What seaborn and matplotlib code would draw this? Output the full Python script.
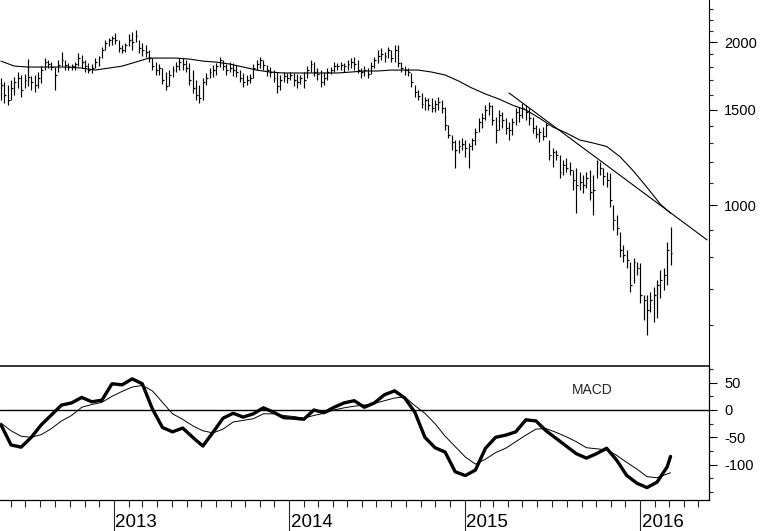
import matplotlib
matplotlib.use('Agg')
import matplotlib.pyplot as plt
import matplotlib.dates as mdates
import matplotlib.ticker as mticker
import matplotlib.transforms as mtrans
import numpy as np
import pandas as pd
import seaborn as sns

# ---------------- weekly bars ----------------
weeks = pd.date_range('2012-05-11', periods=200, freq='7D')

high = [1717, 1688, 1666, 1702, 1724, 1761, 1739, 1746, 1861, 1732,
        1739, 1761, 1806, 1869, 1853, 1837, 1799, 1853, 1918, 1853,
        1830, 1822, 1837, 1910, 1893, 1853, 1830, 1822, 1869, 1885,
        1959, 2018, 2035, 2052, 2079, 2018, 1976, 1993, 2070, 2088,
        2106, 2018, 1993, 1976, 1934, 1869, 1837, 1822, 1791, 1761,
        1776, 1806, 1837, 1869, 1869, 1853, 1830, 1776, 1702, 1666,
        1717, 1754, 1791, 1814, 1830, 1877, 1853, 1822, 1837, 1830,
        1814, 1776, 1754, 1739, 1746, 1822, 1853, 1877, 1853, 1814,
        1799, 1776, 1761, 1739, 1761, 1754, 1761, 1754, 1746, 1739,
        1761, 1806, 1853, 1837, 1791, 1776, 1761, 1791, 1799, 1837,
        1830, 1837, 1830, 1853, 1869, 1877, 1853, 1791, 1806, 1791,
        1837, 1877, 1934, 1951, 1918, 1959, 1934, 1976, 1976, 1837,
        1806, 1791, 1754, 1666, 1631, 1610, 1584, 1577, 1577, 1563,
        1584, 1563, 1517, 1405, 1347, 1319, 1319, 1330, 1319, 1302,
        1330, 1388, 1448, 1479, 1530, 1550, 1530, 1455, 1498, 1486,
        1448, 1424, 1448, 1511, 1517, 1543, 1530, 1511, 1455, 1405,
        1388, 1394, 1417, 1319, 1275, 1264, 1237, 1211, 1221, 1201,
        1161, 1171, 1151, 1136, 1151, 1161, 1136, 1211, 1201, 1171,
        1151, 1146, 1000, 958, 892, 844, 826, 785, 798, 785,
        782, 682, 682, 690, 705, 727, 758, 765, 855, 910]

low = [1563, 1543, 1530, 1563, 1597, 1645, 1584, 1645, 1659, 1631,
       1617, 1645, 1680, 1776, 1791, 1776, 1631, 1761, 1806, 1776,
       1776, 1776, 1776, 1806, 1791, 1761, 1754, 1754, 1791, 1806,
       1869, 1934, 1968, 1976, 1985, 1918, 1910, 1918, 1968, 1934,
       2001, 1910, 1885, 1877, 1837, 1776, 1739, 1739, 1673, 1631,
       1659, 1724, 1761, 1776, 1776, 1761, 1666, 1610, 1563, 1543,
       1563, 1666, 1717, 1724, 1739, 1799, 1776, 1739, 1761, 1732,
       1724, 1688, 1652, 1666, 1680, 1717, 1776, 1791, 1776, 1732,
       1724, 1688, 1610, 1631, 1688, 1680, 1702, 1659, 1645, 1673,
       1645, 1717, 1761, 1732, 1702, 1652, 1666, 1702, 1746, 1761,
       1776, 1776, 1761, 1776, 1791, 1776, 1754, 1717, 1732, 1717,
       1746, 1791, 1830, 1853, 1837, 1869, 1837, 1837, 1799, 1761,
       1739, 1732, 1652, 1584, 1563, 1511, 1498, 1498, 1486, 1486,
       1498, 1479, 1376, 1330, 1264, 1171, 1248, 1264, 1226, 1171,
       1264, 1291, 1364, 1388, 1436, 1467, 1405, 1302, 1376, 1388,
       1353, 1319, 1347, 1405, 1424, 1448, 1436, 1405, 1359, 1330,
       1308, 1319, 1336, 1211, 1176, 1211, 1122, 1136, 1151, 1136,
       1066, 966, 1066, 1052, 1075, 1022, 958, 1122, 1136, 1089,
       1080, 992, 899, 880, 801, 785, 765, 690, 718, 742,
       659, 613, 575, 635, 608, 618, 673, 696, 711, 775]

close = [1666, 1597, 1563, 1645, 1688, 1717, 1631, 1702, 1724, 1688,
         1666, 1717, 1776, 1837, 1822, 1799, 1739, 1814, 1853, 1814,
         1799, 1806, 1822, 1869, 1837, 1806, 1776, 1791, 1837, 1877,
         1934, 1993, 2018, 2035, 2018, 1951, 1934, 1976, 2018, 2001,
         2052, 1951, 1934, 1918, 1869, 1806, 1776, 1791, 1702, 1659,
         1739, 1776, 1806, 1837, 1822, 1791, 1702, 1645, 1597, 1577,
         1688, 1717, 1761, 1776, 1806, 1853, 1806, 1776, 1791, 1776,
         1761, 1717, 1688, 1702, 1717, 1791, 1822, 1853, 1814, 1776,
         1761, 1717, 1659, 1702, 1732, 1717, 1739, 1702, 1688, 1717,
         1702, 1776, 1822, 1761, 1746, 1688, 1717, 1761, 1776, 1806,
         1806, 1814, 1806, 1822, 1837, 1822, 1776, 1761, 1776, 1746,
         1806, 1853, 1885, 1901, 1885, 1934, 1869, 1934, 1830, 1791,
         1776, 1761, 1688, 1617, 1590, 1537, 1563, 1530, 1511, 1537,
         1550, 1511, 1405, 1347, 1308, 1264, 1286, 1297, 1275, 1286,
         1319, 1364, 1424, 1448, 1498, 1524, 1436, 1376, 1467, 1436,
         1388, 1376, 1424, 1486, 1467, 1511, 1486, 1448, 1388, 1353,
         1364, 1341, 1405, 1237, 1253, 1237, 1151, 1186, 1171, 1161,
         1112, 1089, 1103, 1089, 1122, 1057, 1066, 1201, 1171, 1131,
         1112, 1022, 938, 907, 826, 808, 791, 711, 785, 765,
         682, 667, 640, 667, 682, 711, 727, 742, 826, 815]

# moving average, read every 4th week
ma_week = list(range(0, 197, 4)) + [199]
ma = [1845, 1806, 1799, 1799, 1799, 1799, 1791, 1776, 1791, 1806,
      1837, 1869, 1869, 1869, 1861, 1845, 1837, 1822, 1799, 1776,
      1761, 1754, 1754, 1754, 1754, 1754, 1761, 1769, 1769, 1776,
      1776, 1776, 1761, 1739, 1695, 1645, 1604, 1570, 1530, 1498,
      1448, 1394, 1359, 1319, 1302, 1283, 1228, 1155, 1078, 1003, 966]

# trend line end points
trend_dates = ['2015-04-03', '2016-05-19']
trend_vals = [1611, 862]

# MACD and signal, read every 3rd week
macd_week = list(range(0, 199, 3)) + [199]
macd = [-27, -64, -68, -50, -27, -9, 9, 13, 23, 15,
        18, 48, 46, 57, 48, 2, -32, -40, -33, -50,
        -66, -41, -15, -6, -13, -7, 4, -4, -14, -15,
        -17, 0, -5, 5, 13, 17, 5, 13, 28, 35,
        22, -4, -50, -69, -77, -113, -120, -110, -70, -50,
        -46, -40, -18, -20, -38, -52, -66, -80, -88, -80,
        -70, -92, -120, -134, -142, -132, -104, -85]
signal = [-24, -38, -48, -50, -45, -34, -20, -10, 5, 10,
          14, 25, 34, 42, 45, 35, 14, -7, -17, -29,
          -38, -42, -35, -22, -19, -16, -7, -7, -10, -12,
          -15, -10, -6, 0, 4, 7, 9, 12, 17, 22,
          24, 8, -6, -25, -48, -67, -86, -99, -90, -78,
          -70, -58, -46, -35, -34, -41, -49, -58, -69, -71,
          -73, -83, -96, -108, -122, -124, -117, -115]

price_major = [1000, 1500, 2000]
price_minor = [600, 700, 800, 900, 1100, 1200, 1300, 1400, 1600, 1700,
               1800, 1900, 2100, 2200, 2300]
macd_major = [50, 0, -50, -100]
macd_minor = [75, 25, -25, -75, -125, -150]
years = [2013, 2014, 2015, 2016]

# ---------------- figure ----------------
sns.set_style('white')
plt.rcParams['font.family'] = ['Liberation Sans', 'DejaVu Sans']

W, H = 760, 531
fig = plt.figure(figsize=(W / 100, H / 100), dpi=100)
ax1 = fig.add_axes([0, 1 - 366 / H, 709 / W, 366 / H])
ax2 = fig.add_axes([0, 1 - 500 / H, 709 / W, 134 / H])

xlim = (mdates.date2num(pd.Timestamp('2012-05-09')),
        mdates.date2num(pd.Timestamp('2016-05-23')))

# price panel: high-low bars with close ticks
xd = mdates.date2num(weeks)
ax1.vlines(xd, low, high, color='black', lw=0.85)
ax1.hlines(close, xd, xd + 4, color='black', lw=0.85)

ma_df = pd.DataFrame({'date': weeks[ma_week], 'ma': ma})
sns.lineplot(data=ma_df, x='date', y='ma', ax=ax1, color='black', lw=0.8, legend=False)
sns.lineplot(x=pd.to_datetime(trend_dates), y=trend_vals, ax=ax1, color='black', lw=0.8,
             legend=False)

ax1.set_yscale('log')
ax1.set_ylim(504, 2393)
ax1.set_xlim(*xlim)
ax1.yaxis.set_major_locator(mticker.FixedLocator(price_major))
ax1.yaxis.set_major_formatter(mticker.FuncFormatter(lambda v, p: f'{v:.0f}'))
ax1.yaxis.set_minor_locator(mticker.FixedLocator(price_minor))
ax1.yaxis.set_minor_formatter(mticker.NullFormatter())
ax1.yaxis.tick_right()
ax1.tick_params(axis='y', which='major', direction='out', length=6, width=0.8,
                pad=5, labelsize=10.5, colors='black')
ax1.tick_params(axis='y', which='minor', direction='out', length=3, width=0.8)
ax1.tick_params(axis='x', bottom=False, labelbottom=False)
ax1.set_xlabel('')
ax1.set_ylabel('')
for s in ['left', 'top', 'bottom']:
    ax1.spines[s].set_visible(False)
ax1.spines['right'].set_linewidth(0.8)
ax1.spines['right'].set_color('black')

# MACD panel
macd_df = pd.DataFrame({'date': weeks[macd_week], 'macd': macd, 'signal': signal})
sns.lineplot(data=macd_df, x='date', y='signal', ax=ax2, color='black', lw=0.7, legend=False)
sns.lineplot(data=macd_df, x='date', y='macd', ax=ax2, color='black', lw=2.4, legend=False)
ax2.axhline(0, color='black', lw=1.0)

ax2.set_ylim(-164.7, 80.5)
ax2.set_xlim(*xlim)
ax2.yaxis.set_major_locator(mticker.FixedLocator(macd_major))
ax2.yaxis.set_major_formatter(mticker.FuncFormatter(lambda v, p: f'{v:.0f}'))
ax2.yaxis.set_minor_locator(mticker.FixedLocator(macd_minor))
ax2.yaxis.tick_right()
ax2.tick_params(axis='y', which='major', direction='out', length=6, width=0.8,
                pad=5, labelsize=10.5, colors='black')
ax2.tick_params(axis='y', which='minor', direction='out', length=3, width=0.8)

ax2.xaxis.set_major_locator(mdates.YearLocator())
ax2.xaxis.set_minor_locator(mdates.MonthLocator())
ax2.tick_params(axis='x', which='major', direction='out', length=23, width=0.8,
                labelbottom=False, bottom=True)
ax2.tick_params(axis='x', which='minor', direction='out', length=5, width=0.8, bottom=True)
ax2.set_xlabel('')
ax2.set_ylabel('')
ax2.spines['left'].set_visible(False)
for s in ['top', 'right', 'bottom']:
    ax2.spines[s].set_color('black')
    ax2.spines[s].set_linewidth(0.9)
ax2.spines['top'].set_linewidth(1.1)

ax2.text(0.835, 0.82, 'MACD', transform=ax2.transAxes, ha='center', va='center',
         fontsize=10)

tr = mtrans.blended_transform_factory(ax2.transData, fig.transFigure)
for yr in years:
    ax2.text(mdates.date2num(pd.Timestamp(f'{yr}-01-04')), 4 / H, str(yr), transform=tr,
             ha='left', va='baseline', fontsize=13.5, color='black')

fig.savefig('out.png', dpi=100)
